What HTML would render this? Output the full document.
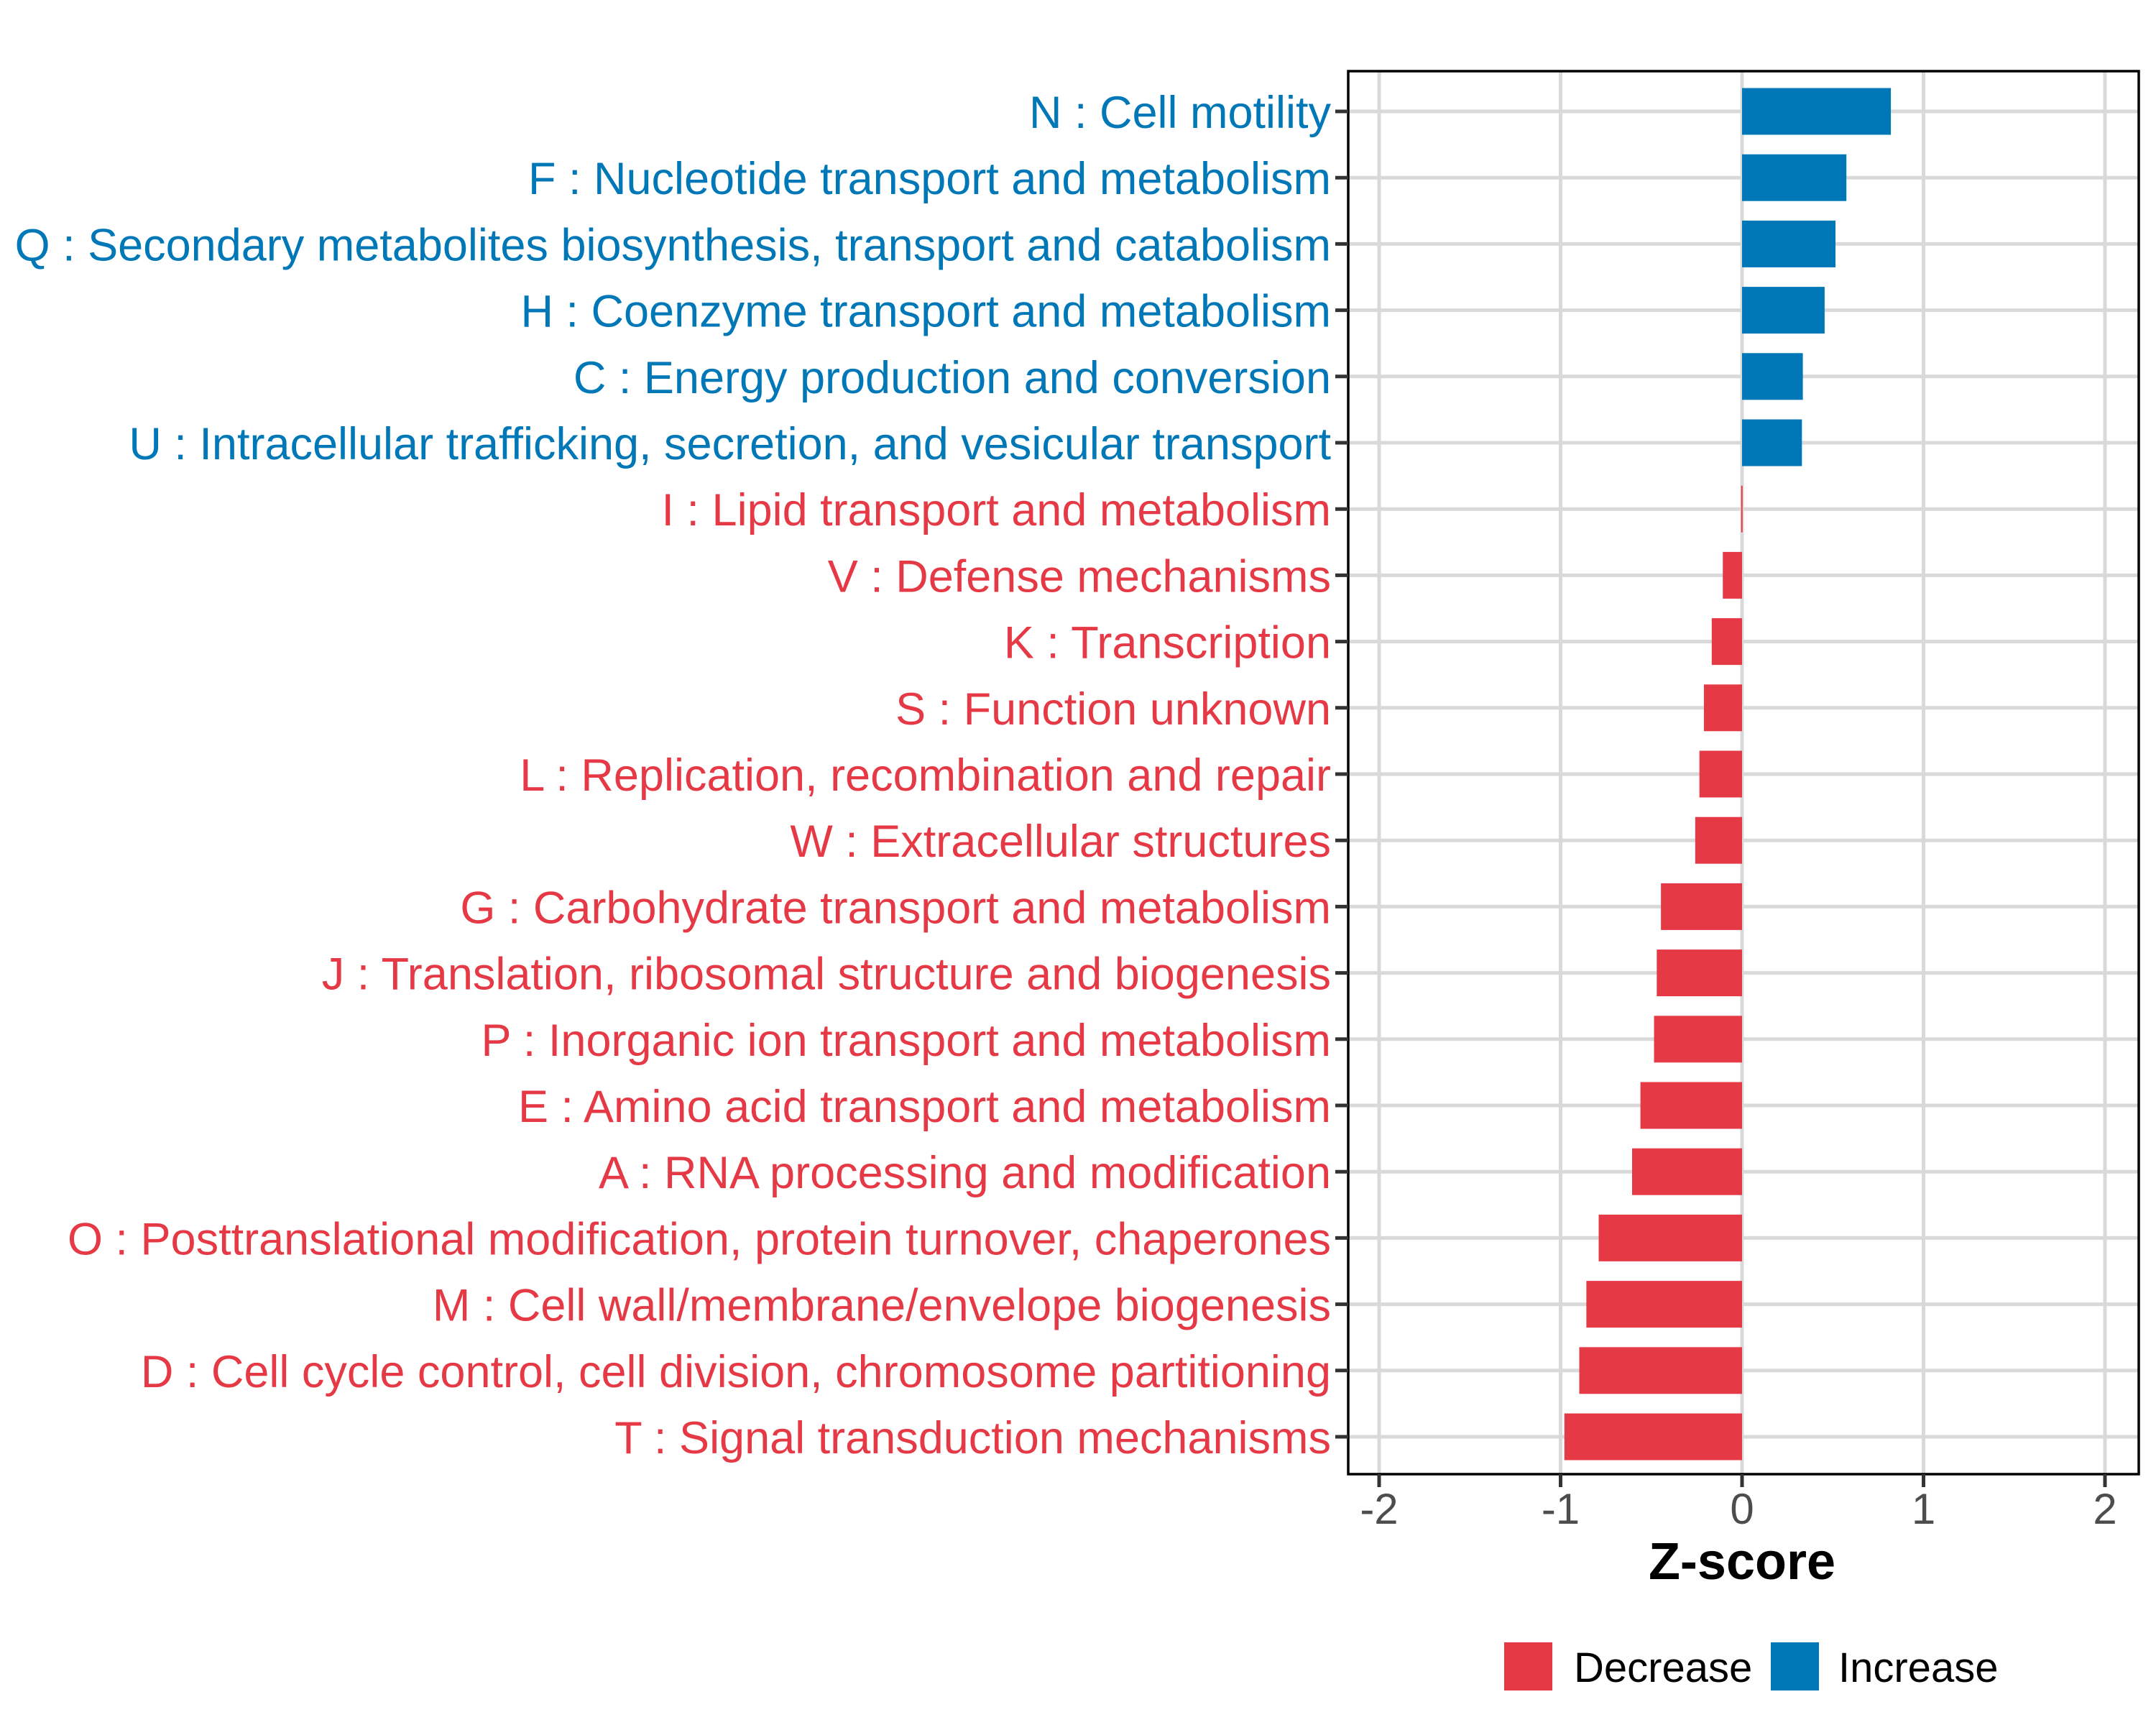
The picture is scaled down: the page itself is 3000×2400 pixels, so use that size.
<!DOCTYPE html>
<html><head><meta charset="utf-8"><style>
html,body{margin:0;padding:0;background:#fff;}
svg{display:block;font-family:"Liberation Sans",Arial,sans-serif;}
</style></head><body>
<svg id="chart" width="3000" height="2400" viewBox="0 0 3000 2400" xmlns="http://www.w3.org/2000/svg">
<rect x="0" y="0" width="3000" height="2400" fill="#fff"/>
<g id="grid"></g>
<g id="bars"></g>
<rect x="1876" y="99" width="1100" height="1952" fill="none" stroke="#000" stroke-width="3.5"/>
<g id="yaxis"></g>
<g id="xaxis"></g>
<text x="2424" y="2197" font-size="72" font-weight="bold" text-anchor="middle">Z-score</text>
<g>
<rect x="2093" y="2285" width="67" height="67" fill="#E63946"/>
<text x="2190" y="2340" font-size="58">Decrease</text>
<rect x="2464" y="2285" width="67" height="67" fill="#0077B6"/>
<text x="2558" y="2340" font-size="58">Increase</text>
</g>
</svg>
<script>
const categories = ["N : Cell motility","F : Nucleotide transport and metabolism","Q : Secondary metabolites biosynthesis, transport and catabolism","H : Coenzyme transport and metabolism","C : Energy production and conversion","U : Intracellular trafficking, secretion, and vesicular transport","I : Lipid transport and metabolism","V : Defense mechanisms","K : Transcription","S : Function unknown","L : Replication, recombination and repair","W : Extracellular structures","G : Carbohydrate transport and metabolism","J : Translation, ribosomal structure and biogenesis","P : Inorganic ion transport and metabolism","E : Amino acid transport and metabolism","A : RNA processing and modification","O : Posttranslational modification, protein turnover, chaperones","M : Cell wall/membrane/envelope biogenesis","D : Cell cycle control, cell division, chromosome partitioning","T : Signal transduction mechanisms"];
const zscores = [0.82,0.575,0.515,0.455,0.335,0.33,-0.005,-0.106,-0.167,-0.21,-0.235,-0.258,-0.447,-0.47,-0.485,-0.56,-0.606,-0.79,-0.858,-0.897,-0.979];
const xTicks = [-2,-1,0,1,2];
const xTickLabels = ["-2","-1","0","1","2"];

const NS="http://www.w3.org/2000/svg";
const PL=1876, PR=2976, PT=99, PB=2051;
const X0=2424, UNIT=252.5;
function xs(v){return X0+v*UNIT;}
const ROW0=155, STEP=(1999-155)/(categories.length-1);
function ys(i){return ROW0+i*STEP;}
function mk(tag,attrs,parent){const e=document.createElementNS(NS,tag);for(const k in attrs)e.setAttribute(k,attrs[k]);parent.appendChild(e);return e;}
const grid=document.getElementById('grid'),bars=document.getElementById('bars'),ya=document.getElementById('yaxis'),xa=document.getElementById('xaxis');

xTicks.forEach((t,i)=>{
  const l=mk('line',{x1:xs(t),x2:xs(t),y1:PT,y2:PB,stroke:'#d9d9d9','stroke-width':5},grid);
  
  
  const tk=mk('line',{x1:xs(t),x2:xs(t),y1:PB,y2:PB+18,stroke:'#333','stroke-width':5},xa);
  
  
  const tx=mk('text',{x:xs(t),y:2120,'font-size':60,'text-anchor':'middle',fill:'#4d4d4d'},xa);
  tx.textContent=xTickLabels[i];
  
  
});
categories.forEach((c,i)=>{
  const y=ys(i);
  const l=mk('line',{x1:PL,x2:PR,y1:y,y2:y,stroke:'#d9d9d9','stroke-width':5},grid);
  
  
  const v=zscores[i];
  const col=v>=0?'#0077B6':'#E63946';
  const h=65;
  const x1=Math.min(xs(0),xs(v)), w=Math.max(Math.abs(xs(v)-xs(0)),2);
  const b=mk('rect',{x:x1,y:y-h/2,width:w,height:h,fill:col},bars);
  
  
  const tk=mk('line',{x1:PL-18,x2:PL,y1:y,y2:y,stroke:'#333','stroke-width':5},ya);
  
  
  const tx=mk('text',{x:PL-24,y:y+23,'font-size':63,'text-anchor':'end',fill:col},ya);
  tx.textContent=c;
  
  
});
</script>
</body></html>
